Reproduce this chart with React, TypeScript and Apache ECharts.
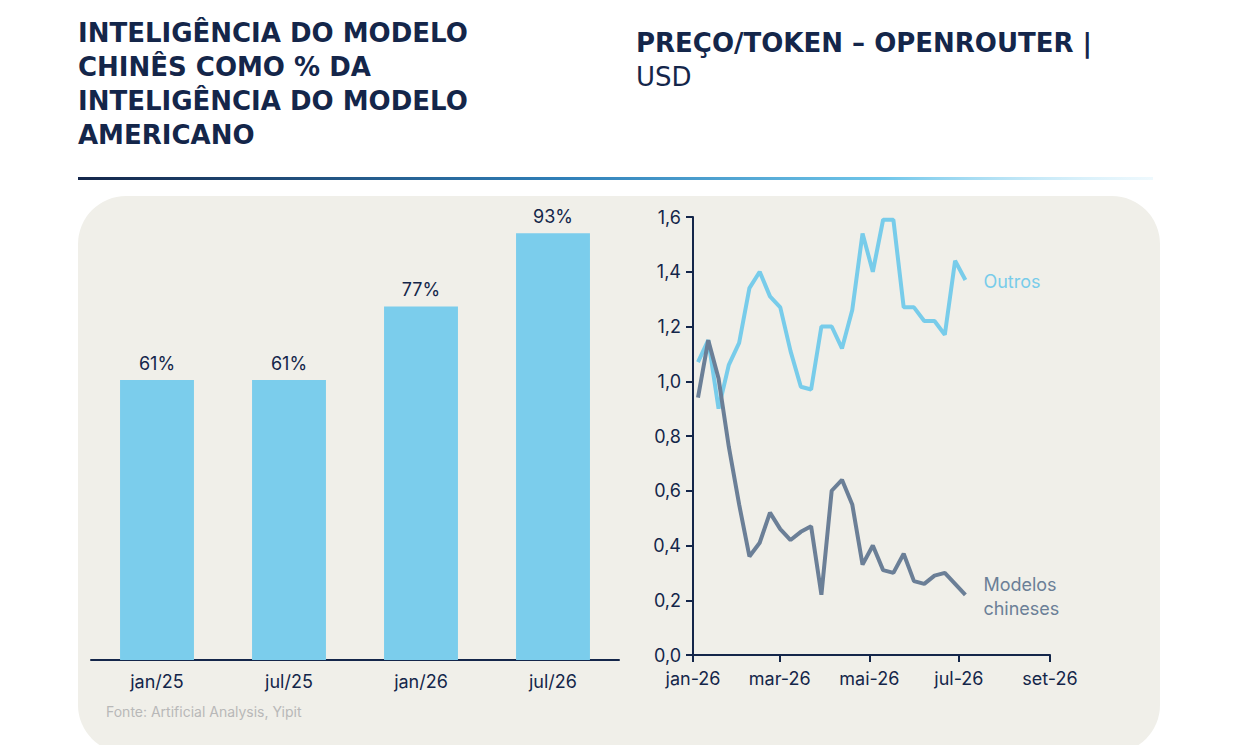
import * as echarts from "echarts";
import { useEffect, useRef } from "react";

const barCats = ["jan/25", "jul/25", "jan/26", "jul/26"];
const barVals = [61, 61, 77, 93];

// dias desde 1 jan 2026 (semanal)
const startDay = 3.4;
const outros = [1.07, 1.15, 0.9, 1.06, 1.14, 1.34, 1.4, 1.31, 1.27, 1.11, 0.98, 0.97, 1.2, 1.2, 1.12, 1.26, 1.54, 1.4, 1.59, 1.59, 1.27, 1.27, 1.22, 1.22, 1.17, 1.44, 1.37];
const chineses = [0.94, 1.15, 1.01, 0.76, 0.55, 0.36, 0.41, 0.52, 0.46, 0.42, 0.45, 0.47, 0.22, 0.6, 0.64, 0.55, 0.33, 0.4, 0.31, 0.3, 0.37, 0.27, 0.26, 0.29, 0.3, 0.26, 0.22];
const monthTicks = [0, 59, 120, 181, 243];
const monthLabels = ["jan-26", "mar-26", "mai-26", "jul-26", "set-26"];

const NAVY = "#14264a";
const FONT = "Inter, 'Noto Sans', sans-serif";
const TFONT = "'DejaVu Sans', Inter, sans-serif";

export default function App() {
  const ref = useRef<HTMLDivElement>(null);
  useEffect(() => {
    const chart = echarts.init(ref.current, null, { renderer: "svg" });
    const toPts = (a: number[]) => a.map((v, i) => [startDay + i * 7, v]);
    chart.setOption({
      animation: false,
      textStyle: { fontFamily: FONT },
      graphic: [
        { type: "rect", z: -10, shape: { x: 78, y: 196, width: 1082, height: 557, r: 48 }, style: { fill: "#f0efe9" } },
        {
          type: "rect",
          shape: { x: 78, y: 177, width: 1075, height: 3 },
          style: {
            fill: new echarts.graphic.LinearGradient(0, 0, 1, 0, [
              { offset: 0, color: NAVY },
              { offset: 0.45, color: "#2f7fb8" },
              { offset: 0.75, color: "#6fc6ea" },
              { offset: 1, color: "rgba(200,235,250,0.3)" },
            ]),
          },
        },
        {
          type: "text", x: 78, y: 16,
          style: { text: "INTELIGÊNCIA DO MODELO\nCHINÊS COMO % DA\nINTELIGÊNCIA DO MODELO\nAMERICANO", fill: NAVY, font: `700 26px ${TFONT}`, lineHeight: 34 },
        },
        { type: "text", x: 636, y: 30, style: { text: "PREÇO/TOKEN – OPENROUTER |", fill: NAVY, font: `700 26px ${TFONT}` } },
        { type: "text", x: 636, y: 64, style: { text: "USD", fill: NAVY, font: `400 26px ${TFONT}` } },
        { type: "text", x: 106, y: 704, style: { text: "Fonte: Artificial Analysis, Yipit", fill: "#b8b8b8", font: `400 14px ${FONT}` } },
      ],
      grid: [
        { left: 91, right: 621, top: 201, bottom: 93 },
        { left: 693, right: 190, top: 217, bottom: 98 },
      ],
      xAxis: [
        {
          gridIndex: 0, type: "category", data: barCats,
          axisTick: { show: false },
          axisLine: { lineStyle: { color: NAVY, width: 2 } },
          axisLabel: { color: NAVY, fontSize: 18, margin: 12 },
        },
        {
          gridIndex: 1, type: "value", min: 0, max: 243,
          splitLine: { show: false },
          axisLine: { lineStyle: { color: NAVY, width: 2 } },
          axisTick: { show: true, customValues: monthTicks, length: 7, inside: false, lineStyle: { color: NAVY, width: 2 } },
          axisLabel: {
            color: NAVY, fontSize: 18, margin: 14, customValues: monthTicks,
            formatter: (v: number) => monthLabels[monthTicks.indexOf(v)] ?? "",
          },
        },
      ],
      yAxis: [
        { gridIndex: 0, type: "value", min: 0, max: 100, show: false },
        {
          gridIndex: 1, type: "value", min: 0, max: 1.6, interval: 0.2,
          splitLine: { show: false },
          axisLine: { show: true, lineStyle: { color: NAVY, width: 2 } },
          axisTick: { show: true, length: 7, lineStyle: { color: NAVY, width: 2 } },
          axisLabel: { color: NAVY, fontSize: 18, margin: 12, formatter: (v: number) => v.toFixed(1).replace(".", ",") },
        },
      ],
      series: [
        {
          type: "bar", xAxisIndex: 0, yAxisIndex: 0, data: barVals, barWidth: "56%",
          itemStyle: { color: "#7bcdec" },
          label: { show: true, position: "top", formatter: "{c}%", color: NAVY, fontSize: 18, distance: 8 },
        },
        {
          type: "line", xAxisIndex: 1, yAxisIndex: 1, data: toPts(outros), showSymbol: false,
          lineStyle: { color: "#78ccea", width: 4 }, itemStyle: { color: "#78ccea" },
          endLabel: { show: true, formatter: "Outros", color: "#78ccea", fontSize: 18, offset: [10, 2] },
        },
        {
          type: "line", xAxisIndex: 1, yAxisIndex: 1, data: toPts(chineses), showSymbol: false,
          lineStyle: { color: "#6b7f97", width: 4 }, itemStyle: { color: "#6b7f97" },
          endLabel: { show: true, formatter: "Modelos\nchineses", color: "#6b7f97", fontSize: 18, lineHeight: 24, align: "left", offset: [10, 2] },
        },
      ],
    });
    return () => chart.dispose();
  }, []);
  return <div ref={ref} style={{ width: 1240, height: 753, margin: -8, background: "#fff" }} />;
}
